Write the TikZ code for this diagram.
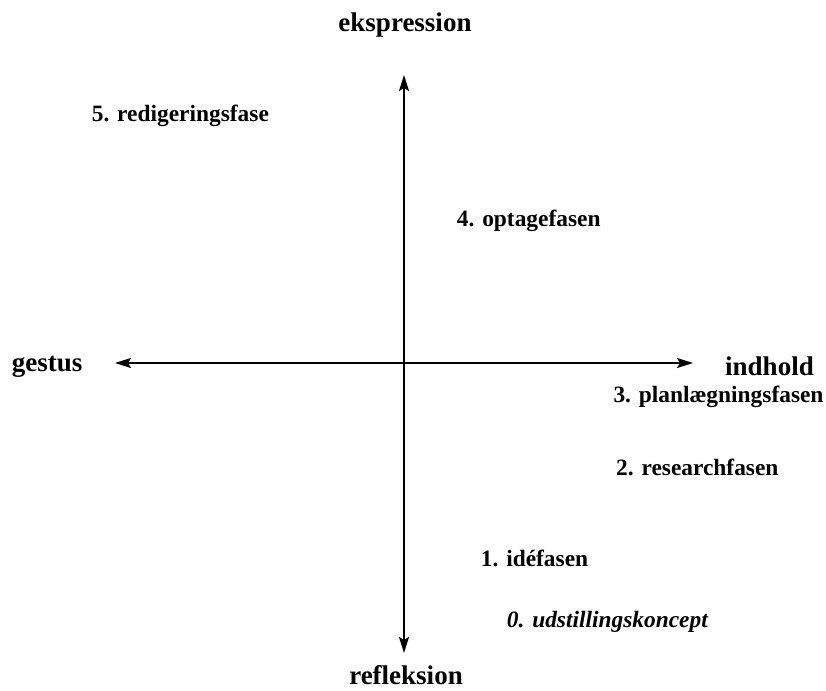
\documentclass[tikz,border=0pt]{standalone}
\usepackage{fontspec}
\setmainfont{Liberation Serif}
\usetikzlibrary{arrows.meta}
\begin{document}
\begin{tikzpicture}[x=1pt,y=-1pt,
  axislabel/.style={inner sep=0pt,font=\fontsize{27}{32}\selectfont\bfseries},
  phase/.style={inner sep=0pt,anchor=base west,font=\fontsize{23.4}{28}\selectfont\bfseries},
  axis/.style={line width=1.8pt,{Stealth[length=16pt,width=10pt,inset=3pt]}-{Stealth[length=16pt,width=10pt,inset=3pt]}}]
\useasboundingbox (0,0) rectangle (826,690);
\coordinate (top) at (404,75);
\coordinate (bottom) at (404,653);
\coordinate (left) at (115,363);
\coordinate (right) at (693,363);
\draw[axis] (top) -- (bottom);
\draw[axis] (left) -- (right);
\node[axislabel,anchor=base] (eks) at (405,31.7) {ekspression};
\node[axislabel,anchor=base] (ref) at (406,684) {refleksion};
\node[axislabel,anchor=base west] (ges) at (11.7,371.7) {gestus};
\node[axislabel,anchor=base west] (ind) at (725,375) {indhold};
\node[phase] (p5) at (91.7,121.7) {5. redigeringsfase};
\node[phase] (p4) at (456.7,226.7) {4. optagefasen};
\node[phase] (p3) at (613.3,402.7) {3. planlægningsfasen};
\node[phase] (p2) at (616,475) {2. researchfasen};
\node[phase] (p1) at (480.7,566.7) {1. idéfasen};
\node[phase,font=\fontsize{23.4}{28}\selectfont\bfseries\itshape] (p0) at (506.7,627) {0. udstillingskoncept};
\end{tikzpicture}
\end{document}
